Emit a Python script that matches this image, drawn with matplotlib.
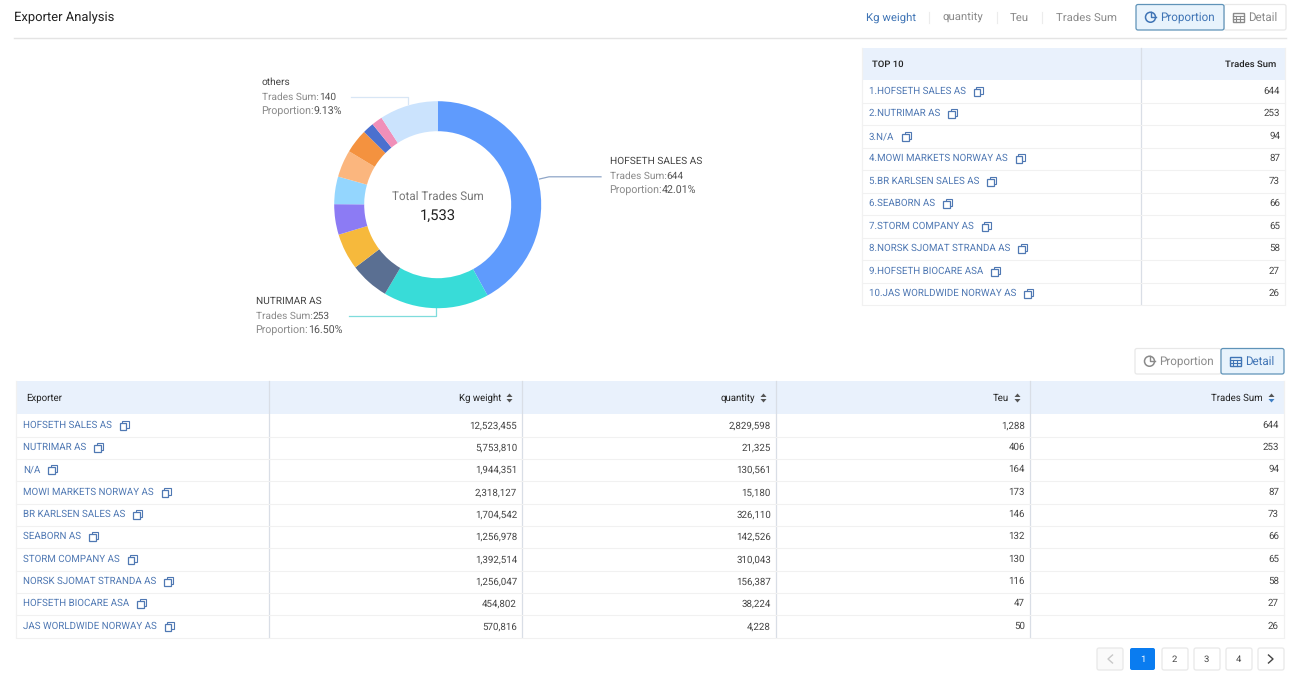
import matplotlib
matplotlib.use("Agg")
import matplotlib.pyplot as plt
from matplotlib.patches import Rectangle, FancyBboxPatch, Circle, Polygon

plt.rcParams['font.family'] = ['Roboto', 'DejaVu Sans']
plt.rcParams['text.hinting'] = 'no_hinting'

### Data ###
exporters = ['HOFSETH SALES AS', 'NUTRIMAR AS', 'N/A', 'MOWI MARKETS NORWAY AS', 'BR KARLSEN SALES AS',
             'SEABORN AS', 'STORM COMPANY AS', 'NORSK SJOMAT STRANDA AS', 'HOFSETH BIOCARE ASA',
             'JAS WORLDWIDE NORWAY AS']
kg_weight = [12523455, 5753810, 1944351, 2318127, 1704542, 1256978, 1392514, 1256047, 454802, 570816]
quantity = [2829598, 21325, 130561, 15180, 326110, 142526, 310043, 156387, 38224, 4228]
teu = [1288, 406, 164, 173, 146, 132, 130, 116, 47, 50]
trades_sum = [644, 253, 94, 87, 73, 66, 65, 58, 27, 26]
others_sum = 140
total_sum = 1533
slice_colors = ['#5f9bfd', '#38dcd8', '#5a6f92', '#f6b93c', '#8c7bf4', '#94d6fe',
                '#fbb67e', '#f4923f', '#4b70cf', '#f08fb9', '#cbe3fd']
nav_labels = ['Kg weight', 'quantity', 'Teu', 'Trades Sum']
page_labels = ['1', '2', '3', '4']

BLUE = '#3f74b5'
LINK = '#4f78b3'
GREY = '#8a8a8a'
DARK = '#333333'
HEAD = '#e9f1fc'
LINE = '#f1f1f1'

W, H = 1300, 689
fig = plt.figure(figsize=(W / 100, H / 100), dpi=100, facecolor='white')
ax = fig.add_axes([0, 0, 1, 1])
ax.set_xlim(0, W)
ax.set_ylim(H, 0)
ax.axis('off')


def txt(x, y, s, size=7.0, color=DARK, ha='left', **kw):
    # baseline centring keeps rows level whatever glyphs the string holds
    return ax.text(x, y - 0.4, s, fontsize=size, color=color, ha=ha, va='center_baseline', **kw)


def right_edge(t):
    bb = t.get_window_extent(fig.canvas.get_renderer())
    return bb.x1


def copy_icon(x, y, color=LINK):
    ax.add_patch(Rectangle((x + 2.5, y - 4.5), 6.5, 7.5, fc='none', ec=color, lw=0.8))
    ax.add_patch(Rectangle((x, y - 2.5), 6.5, 7.5, fc='white', ec=color, lw=0.9))


def sort_icon(x, y, down_color='#555555'):
    ax.add_patch(Polygon([(x - 3, y - 1), (x + 3, y - 1), (x, y - 4.5)], fc='#555555', ec='none'))
    ax.add_patch(Polygon([(x - 3, y + 1), (x + 3, y + 1), (x, y + 4.5)], fc=down_color, ec='none'))


def button(x0, x1, y0, y1, active=False, r=2, fc=None):
    face = fc or ('#e8f3fc' if active else 'white')
    edge = '#5f93b8' if active else '#e8e8e8'
    ax.add_patch(FancyBboxPatch((x0 + r, y0 + r), x1 - x0 - 2 * r, y1 - y0 - 2 * r,
                                boxstyle=f'round,pad={r}', fc=face, ec=edge, lw=0.9, zorder=2))


def pie_icon(x, y, color):
    ax.add_patch(Circle((x, y), 5, fc='none', ec=color, lw=1.1, zorder=3))
    ax.plot([x, x, x + 5], [y - 5, y, y], color=color, lw=1.0, zorder=3)


def grid_icon(x, y, color, lw=0.8):
    ax.add_patch(Rectangle((x - 5.5, y - 4.5), 11, 9, fc='none', ec=color, lw=lw + 0.2, zorder=3))
    ax.plot([x - 5.5, x + 5.5], [y - 1.5, y - 1.5], color=color, lw=lw, zorder=3)
    ax.plot([x - 5.5, x + 5.5], [y + 1.5, y + 1.5], color=color, lw=lw, zorder=3)
    ax.plot([x - 2, x - 2], [y - 1.5, y + 4.5], color=color, lw=lw, zorder=3)
    ax.plot([x + 2, x + 2], [y - 1.5, y + 4.5], color=color, lw=lw, zorder=3)


def toggle(px0, px1, px2, y0, y1, proportion_active):
    if proportion_active:
        button(px1, px2, y0, y1)
        button(px0, px1, y0, y1, active=True)
    else:
        button(px0, px1, y0, y1)
        button(px1, px2, y0, y1, active=True)
    ym = (y0 + y1) / 2
    c1 = BLUE if proportion_active else GREY
    c2 = GREY if proportion_active else BLUE
    pie_icon(px0 + 14.5, ym, c1)
    txt(px0 + 24.5, ym, 'Proportion', size=8.4, color=c1, zorder=4)
    grid_icon(px1 + 14, ym, c2)
    txt(px1 + 24, ym, 'Detail', size=8.3, color=c2, zorder=4)


### Page header ###
txt(14, 17, 'Exporter Analysis', size=9.4, color='#222222')
ax.plot([14, 1286], [37.5, 37.5], color='#e4e4e4', lw=1)
for cx, label, c in zip([891, 963, 1019, 1086], nav_labels, [BLUE, GREY, GREY, GREY]):
    txt(cx, 17, label, size=8.2, color=c, ha='center')
for sx in [929, 997, 1042]:
    ax.plot([sx, sx], [12, 23], color='#ececec', lw=0.8)
toggle(1136, 1224, 1286, 4.5, 30, True)

### Donut ###
cx, cy, rad = 437.7, 204.7, 103.5
pie_ax = fig.add_axes([(cx - rad) / W, 1 - (cy + rad) / H, 2 * rad / W, 2 * rad / H])
pie_ax.pie(trades_sum + [others_sum], colors=slice_colors, startangle=90, counterclock=False,
           radius=1, wedgeprops=dict(width=30 / rad, linewidth=0))
pie_ax.set_xlim(-1, 1)
pie_ax.set_ylim(-1, 1)
pie_ax.axis('off')
txt(cx, 196, 'Total Trades Sum', size=8.4, color='#777777', ha='center')
txt(cx, 215, f'{total_sum:,}', size=10.6, color='#222222', ha='center')


def callout(x, y, name, value):
    txt(x, y, name, size=7.3, color='#444444')
    t = txt(x, y + 14.5, 'Trades Sum:', size=7.3, color=GREY)
    txt(right_edge(t), y + 14.5, str(value), size=7.3, color='#555555')
    t = txt(x - 0.7, y + 29, 'Proportion:', size=7.7, color=GREY)
    txt(right_edge(t), y + 29, f'{value / total_sum * 100:.2f}%', size=7.7, color='#555555')


callout(610, 161, exporters[0], trades_sum[0])
callout(256, 301, exporters[1], trades_sum[1])
callout(262, 82, 'others', others_sum)
ax.plot([539.5, 549, 601], [179, 176.8, 176.8], color='#8fa6c8', lw=0.9)
ax.plot([349, 436, 436], [316, 316, 308], color='#7fdcdc', lw=0.9)
ax.plot([351, 408, 408], [97.3, 97.3, 104], color='#d8e6f5', lw=0.9)

### Top 10 table ###
top_y = [91, 113, 136, 158, 181, 203, 226, 248, 271, 293]
ax.add_patch(Rectangle((862, 48), 423, 32, fc=HEAD, ec='none'))
ax.plot([1141, 1141], [48, 304], color='#d9dee6', lw=0.9)
ax.plot([1285, 1285], [48, 304], color=LINE, lw=0.9)
ax.plot([862, 862], [48, 304], color=LINE, lw=0.9)
txt(872, 64, 'TOP 10', size=6.8, color='#222222', fontweight='medium')
txt(1276, 64, 'Trades Sum', size=6.8, color='#222222', ha='right', fontweight='medium')
for i, y in enumerate(top_y):
    t = txt(869, y, f'{i + 1}.{exporters[i]}', color=LINK)
    copy_icon(right_edge(t) + 8, y)
    txt(1280, y, str(trades_sum[i]), color='#444444', ha='right')
    ax.plot([862, 1285], [y + 11.5, y + 11.5], color=LINE, lw=0.8)

### Detail table ###
toggle(1135, 1221, 1284, 348.5, 374, False)
col_x = [16, 269, 522, 776, 1030, 1284]
det_y = [425, 447, 469, 492, 514, 536, 559, 581, 603, 626]
ax.add_patch(Rectangle((16, 381), 1268, 33, fc=HEAD, ec='none'))
for x in col_x[1:]:
    ax.plot([x, x], [381, 637], color='#d9dee6' if x != 1284 else LINE, lw=0.9)
ax.plot([16, 16], [381, 637], color=LINE, lw=0.9)
txt(26, 398, 'Exporter', size=6.9, color='#222222')
for x, label in zip(col_x[2:], nav_labels):
    is_last = label == 'Trades Sum'
    txt(x - 21, 398, label, size=6.9, color='#222222', ha='right')
    sort_icon(x - 12.5, 398, down_color='#3f7fc4' if is_last else '#555555')
for i, y in enumerate(det_y):
    t = txt(23, y, exporters[i], color=LINK)
    copy_icon(right_edge(t) + 8, y)
    for x, v in zip(col_x[2:], [kg_weight[i], quantity[i], teu[i], trades_sum[i]]):
        txt(x - 5, y, f'{v:,}', color='#444444', ha='right')
    ax.plot([16, 1284], [y + 11.5, y + 11.5], color=LINE, lw=0.8)

### Pagination ###
button(1097, 1123, 648, 670, fc='#fafafa')
ax.plot([1112.5, 1108, 1112.5], [655, 659, 663], color='#c8c8c8', lw=1, zorder=3)
for x0, label in zip([1130, 1162, 1194, 1226], page_labels):
    is_current = label == '1'
    if is_current:
        ax.add_patch(FancyBboxPatch((x0 + 2, 650), 21, 18, boxstyle='round,pad=2', fc='#0a7cf0', ec='none', zorder=2))
    else:
        button(x0, x0 + 26, 648, 670)
    txt(x0 + 12.5, 659, label, size=6.8, color='white' if is_current else '#444444', ha='center',
        zorder=4)
button(1258, 1284, 648, 670)
ax.plot([1268.5, 1273, 1268.5], [655, 659, 663], color='#444444', lw=1, zorder=3)

fig.savefig('out.png', dpi=100)
